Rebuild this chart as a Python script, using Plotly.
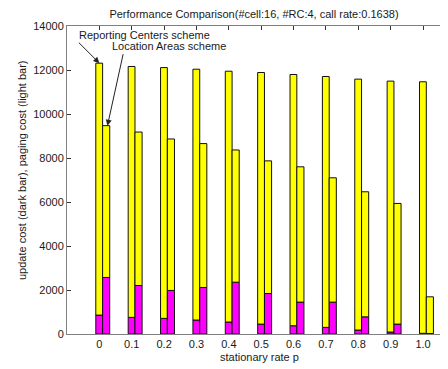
import plotly.graph_objects as go

# stationary rate p (categories)
p_values = [0.0, 0.1, 0.2, 0.3, 0.4, 0.5, 0.6, 0.7, 0.8, 0.9, 1.0]
p_labels = ["0", "0.1", "0.2", "0.3", "0.4", "0.5", "0.6", "0.7", "0.8", "0.9", "1.0"]

# Reporting Centers scheme
rc_update = [860, 755, 710, 635, 545, 450, 375, 300, 180, 90, 30]
rc_paging = [11450, 11405, 11400, 11400, 11400, 11435, 11420, 11405, 11405, 11405, 11435]

# Location Areas scheme
la_update = [2570, 2205, 1980, 2115, 2355, 1840, 1450, 1450, 780, 450, 20]
la_paging = [6900, 6975, 6885, 6540, 6010, 6030, 6150, 5650, 5685, 5485, 1670]

y_ticks = [0, 2000, 4000, 6000, 8000, 10000, 12000, 14000]

YELLOW = "#FFFF00"
MAGENTA = "#FF00FF"
OUTLINE = dict(color="#111111", width=1)
FONT = "Liberation Sans, Arial, sans-serif"
TXT = "#1a1a1a"

W_BAR = 0.021
OFF_RC = -0.011
OFF_LA = 0.010

rc_total = [u + g for u, g in zip(rc_update, rc_paging)]
la_total = [u + g for u, g in zip(la_update, la_paging)]

# page has an 8px body margin; figure sized so it ends at the window edge
FIG_W, FIG_H = 440, 361

fig = go.Figure()
fig.add_trace(go.Bar(x=p_values, y=rc_update, base=0, width=W_BAR, offset=OFF_RC,
                     marker=dict(color=MAGENTA, line=OUTLINE), name="RC update"))
fig.add_trace(go.Bar(x=p_values, y=rc_paging, base=rc_update, width=W_BAR, offset=OFF_RC,
                     marker=dict(color=YELLOW, line=OUTLINE), name="RC paging"))
fig.add_trace(go.Bar(x=p_values, y=la_update, base=0, width=W_BAR + 0.001, offset=OFF_LA,
                     marker=dict(color=MAGENTA, line=OUTLINE), name="LA update"))
fig.add_trace(go.Bar(x=p_values, y=la_paging, base=la_update, width=W_BAR + 0.001, offset=OFF_LA,
                     marker=dict(color=YELLOW, line=OUTLINE), name="LA paging"))

fig.update_layout(
    width=FIG_W, height=FIG_H,
    margin=dict(l=59, r=0, t=18, b=35),
    paper_bgcolor="white", plot_bgcolor="white",
    barmode="overlay", showlegend=False,
    font=dict(family=FONT, size=11, color=TXT),
    title=dict(text="Performance Comparison(#cell:16, #RC:4, call rate:0.1638)",
               xref="container", yref="container", x=246 / FIG_W, y=1 - 6 / FIG_H,
               xanchor="center", yanchor="middle",
               font=dict(family=FONT, size=11, color=TXT)),
)

fig.update_xaxes(
    range=[-0.1, 1.077], tickvals=p_values, ticktext=p_labels,
    showline=True, linecolor="#808080", linewidth=1, mirror="ticks",
    ticks="inside", ticklen=4, tickcolor="#333333", tickwidth=1,
    showgrid=False, zeroline=False, layer="below traces",
    tickfont=dict(family=FONT, size=11, color=TXT),
)
fig.update_yaxes(
    range=[0, 14000], tickvals=y_ticks, ticktext=[str(v) for v in y_ticks],
    showline=True, linecolor="#808080", linewidth=1,
    ticks="inside", ticklen=4, tickcolor="#333333", tickwidth=1,
    showgrid=False, zeroline=False, layer="below traces",
    tickfont=dict(family=FONT, size=11, color=TXT),
)

# axis titles
fig.add_annotation(text="stationary rate p", xref="paper", yref="paper",
                   x=(259 - 67) / 381, y=(334 - 357) / 308, showarrow=False,
                   xanchor="center", yanchor="middle",
                   font=dict(family=FONT, size=11, color=TXT))
fig.add_annotation(text="update cost (dark bar), paging cost (light bar)",
                   xref="paper", yref="paper", x=(22 - 67) / 381, y=(334 - 170) / 308,
                   textangle=-90, showarrow=False, xanchor="center", yanchor="middle",
                   font=dict(family=FONT, size=11, color=TXT))

# scheme labels
fig.add_annotation(text="Reporting Centers scheme", xref="x", yref="y",
                   x=-0.068, y=13590, showarrow=False, xanchor="left", yanchor="middle",
                   font=dict(family=FONT, size=11, color=TXT))
fig.add_annotation(text="Location Areas scheme", xref="x", yref="y",
                   x=0.034, y=13090, showarrow=False, xanchor="left", yanchor="middle",
                   font=dict(family=FONT, size=11, color=TXT))

# arrows
fig.add_annotation(text="", xref="x", yref="y", x=p_values[0], y=rc_total[0],
                   ax=-22, ay=-22, showarrow=True, arrowhead=2, arrowsize=1.2,
                   arrowwidth=1, arrowcolor="#222222")
fig.add_annotation(text="", xref="x", yref="y", x=p_values[0] + 0.025, y=la_total[0],
                   ax=16, ay=-73, showarrow=True, arrowhead=2, arrowsize=1.2,
                   arrowwidth=1, arrowcolor="#222222")

fig.write_html("out.html")
